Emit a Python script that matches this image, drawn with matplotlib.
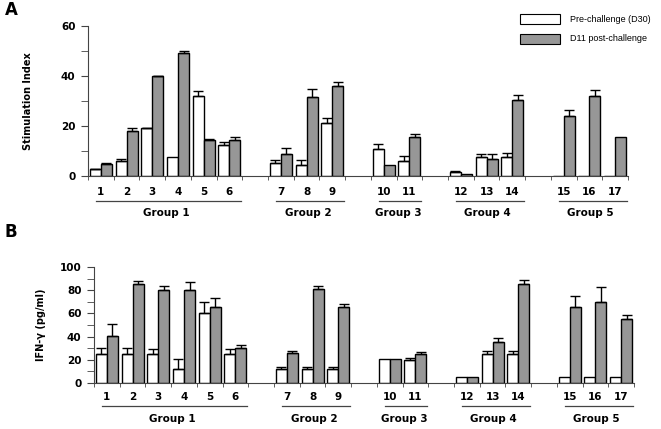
import numpy as np
import matplotlib.pyplot as plt
from matplotlib.patches import Rectangle

animals = [str(i) for i in range(1, 18)]
slots = [0, 1, 2, 3, 4, 5, 7, 8, 9, 11, 12, 14, 15, 16, 18, 19, 20]
groups = ["Group 1", "Group 2", "Group 3", "Group 4", "Group 5"]
group_slots = [(0, 5), (7, 9), (11, 12), (14, 16), (18, 20)]

# panel A: stimulation index
si_pre = [2.7, 6.0, 19.2, 7.5, 32.0, 12.5, 5.3, 4.5, 21.3, 11.0, 6.0, 1.8, 7.5, 7.5, 0, 0, 0]
si_pre_err = [0.2, 0.8, 0.2, 0, 2.0, 1.2, 1.2, 2.1, 2.1, 1.9, 2.0, 0.3, 1.5, 1.6, 0, 0, 0]
si_post = [5.0, 18.0, 40.0, 49.3, 14.5, 14.3, 9.0, 31.7, 36.2, 4.6, 15.8, 0.7, 7.0, 30.5, 24.0, 32.0, 15.5]
si_post_err = [0.3, 1.3, 0.2, 0.9, 0.3, 1.3, 2.3, 3.1, 1.3, 0, 1.2, 0, 2.0, 2.1, 2.4, 2.4, 0]

# panel B: IFN-gamma
ifn_pre = [25, 25, 25, 12, 60, 25, 12, 12, 12, 20.5, 20, 5, 25, 25, 5, 5, 5]
ifn_pre_err = [5.5, 5.5, 4.3, 8.7, 9.8, 4, 1.7, 1.7, 1.4, 0, 1.7, 0, 2.3, 2.3, 0, 0, 0]
ifn_post = [40.5, 85.5, 80.5, 80.5, 65.5, 29.8, 25.4, 81, 65.3, 20.5, 25.1, 5, 35, 85.8, 65.6, 70.2, 55.2]
ifn_post_err = [10, 2.6, 3.2, 6.4, 8, 2.6, 2.3, 2.6, 2.6, 0, 1.7, 0, 3.5, 3.5, 9.8, 12.4, 3.5]

GRAY = "#979797"
AXC = "#444444"
W = 0.43


def panel(ax, pre, pre_err, post, post_err, ymax, ylabel, ylab_x, lab_y, line_y, grp_y):
    x = np.array(slots, dtype=float)
    xp = x + 0.07 + W / 2
    xg = xp + W
    ax.bar(xp, pre, W, color="white", edgecolor="black", linewidth=1)
    ax.bar(xg, post, W, color=GRAY, edgecolor="black", linewidth=1)
    for xs, v, e in [(xp, pre, pre_err), (xg, post, post_err)]:
        v = np.array(v)
        e = np.array(e)
        m = e > 0
        ax.errorbar(xs[m], v[m], yerr=[np.zeros(m.sum()), e[m]], fmt="none",
                    ecolor="black", elinewidth=1, capsize=3.5, capthick=1)
    ax.set_xlim(0, 21)
    ax.set_ylim(0, ymax)
    for s in ["top", "right"]:
        ax.spines[s].set_visible(False)
    ax.spines["left"].set_color(AXC)
    ax.spines["bottom"].set_color(AXC)
    ax.set_xticks(x + 0.5)
    ax.set_xticklabels([])
    ax.tick_params(axis="x", length=0)
    ax.set_xticks(np.arange(0, 22), minor=True)
    ax.tick_params(axis="x", which="minor", length=3, direction="out", color=AXC)
    ax.set_yticks(np.arange(0, ymax + 1, 20))
    ax.set_yticks(np.arange(0, ymax + 1, 10), minor=True)
    ax.tick_params(axis="y", which="both", length=5, color=AXC)
    ax.tick_params(axis="y", labelsize=7.5, pad=4)
    for t in ax.get_yticklabels():
        t.set_fontweight("bold")
    ax.set_ylabel(ylabel, fontsize=7, fontweight="bold")
    ax.yaxis.set_label_coords(ylab_x, 0.5)
    tr = ax.get_xaxis_transform()
    for xi, a in zip(x, animals):
        ax.text(xi + 0.5, lab_y, a, transform=tr, ha="center", va="center",
                fontsize=7.5, fontweight="bold")
    for g, (s0, s1) in zip(groups, group_slots):
        ax.plot([s0 + 0.3, s1 + 0.95], [line_y, line_y], transform=tr,
                color=AXC, lw=0.9, clip_on=False)
        ax.text((s0 + s1 + 1.1) / 2, grp_y, g, transform=tr, ha="center",
                va="center", fontsize=7.5, fontweight="bold")


fig = plt.figure(figsize=(6.61, 4.29), dpi=100)
ax1 = fig.add_axes([88 / 661, 1 - 176 / 429, 540 / 661, 150 / 429])
ax2 = fig.add_axes([94 / 661, 1 - 382.7 / 429, 540 / 661, 115.4 / 429])

panel(ax1, si_pre, si_pre_err, si_post, si_post_err, 60, "Stimulation Index",
      -55 / 540, -0.107, -0.167, -0.247)
panel(ax2, ifn_pre, ifn_pre_err, ifn_post, ifn_post_err, 100, "IFN-\u03b3 (pg/ml)",
      -48 / 540, -0.124, -0.205, -0.315)

fig.text(5 / 661, 1 - 10 / 429, "A", fontsize=12, fontweight="bold", va="center")
fig.text(5 / 661, 1 - 232 / 429, "B", fontsize=12, fontweight="bold", va="center")

# legend
for i, (c, lbl) in enumerate([("white", "Pre-challenge (D30)"), (GRAY, "D11 post-challenge")]):
    yc = 19 + i * 19.5
    fig.patches.append(Rectangle((520 / 661, 1 - (yc + 5) / 429), 40 / 661, 10 / 429,
                                 transform=fig.transFigure, facecolor=c,
                                 edgecolor="black", linewidth=0.8))
    fig.text(570 / 661, 1 - yc / 429, lbl, fontsize=6.5, va="center",
             family="Liberation Sans")

fig.savefig("out.png", dpi=100)
